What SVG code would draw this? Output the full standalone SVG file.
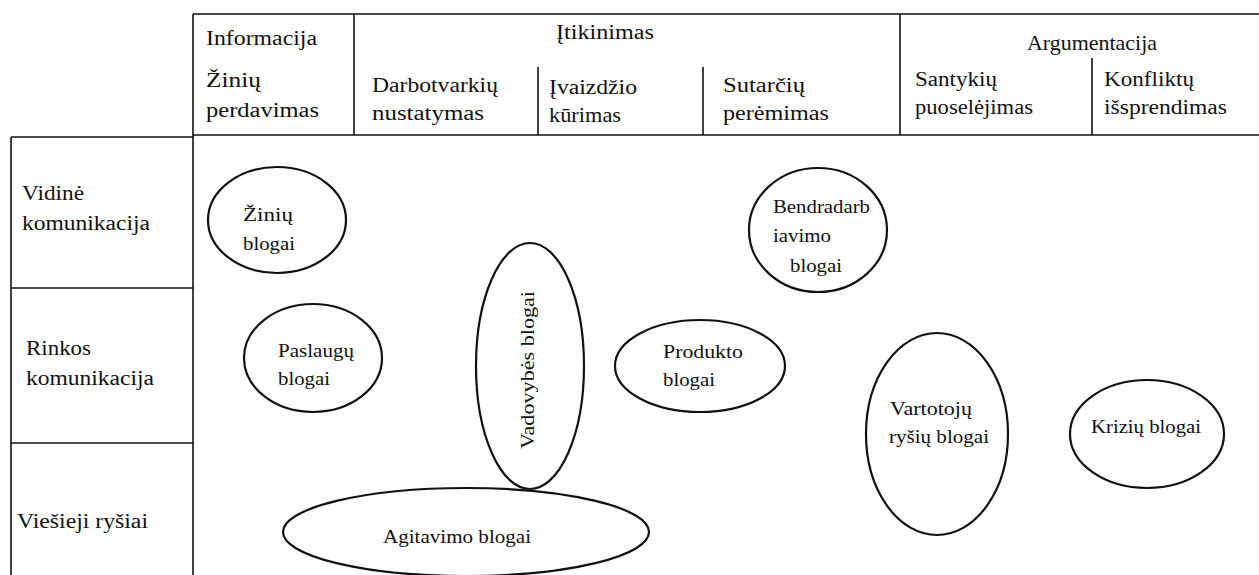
<svg xmlns="http://www.w3.org/2000/svg" width="1259" height="575" viewBox="0 0 1259 575">
  <style>
    .grid { stroke: #111; stroke-width: 1.6; fill: none; }
    .blob { stroke: #111; stroke-width: 2.2; fill: #fff; }
    .hd { font-family: "Liberation Serif", "DejaVu Serif", serif; font-size: 20px; fill: #111; }
    .lb { font-family: "Liberation Serif", "DejaVu Serif", serif; font-size: 18px; fill: #111; }
  </style>

  <!-- table lines -->
  <g id="connectors">
    <line class="grid" x1="193" y1="14" x2="1259" y2="14"/>
    <line class="grid" x1="193" y1="135" x2="1259" y2="135"/>
    <line class="grid" x1="193" y1="14" x2="193" y2="575"/>
    <line class="grid" x1="354" y1="14" x2="354" y2="135"/>
    <line class="grid" x1="900" y1="14" x2="900" y2="135"/>
    <line class="grid" x1="538" y1="67" x2="538" y2="135"/>
    <line class="grid" x1="703" y1="67" x2="703" y2="135"/>
    <line class="grid" x1="1092" y1="58" x2="1092" y2="135"/>
    <line class="grid" x1="11" y1="137" x2="193" y2="137"/>
    <line class="grid" x1="11" y1="137" x2="11" y2="575"/>
    <line class="grid" x1="11" y1="288" x2="193" y2="288"/>
    <line class="grid" x1="11" y1="443" x2="193" y2="443"/>
  </g>

  <!-- column headings -->
  <g id="col-informacija">
    <text class="hd" x="206" y="45" textLength="111" lengthAdjust="spacingAndGlyphs">Informacija</text>
    <text class="hd" x="206" y="87" textLength="55" lengthAdjust="spacingAndGlyphs">Žinių</text>
    <text class="hd" x="206" y="117" textLength="113" lengthAdjust="spacingAndGlyphs">perdavimas</text>
  </g>
  <g id="col-itikinimas">
    <text class="hd" x="556" y="39" textLength="98" lengthAdjust="spacingAndGlyphs">Įtikinimas</text>
    <text class="hd" x="372" y="92" textLength="126" lengthAdjust="spacingAndGlyphs">Darbotvarkių</text>
    <text class="hd" x="372" y="120" textLength="112" lengthAdjust="spacingAndGlyphs">nustatymas</text>
    <text class="hd" x="549" y="94" textLength="88" lengthAdjust="spacingAndGlyphs">Įvaizdžio</text>
    <text class="hd" x="549" y="122" textLength="72" lengthAdjust="spacingAndGlyphs" style="font-size:21px">kūrimas</text>
    <text class="hd" x="723" y="92" textLength="82" lengthAdjust="spacingAndGlyphs">Sutarčių</text>
    <text class="hd" x="723" y="120" textLength="106" lengthAdjust="spacingAndGlyphs">perėmimas</text>
  </g>
  <g id="col-argumentacija">
    <text class="hd" x="1027" y="50" textLength="130" lengthAdjust="spacingAndGlyphs" style="font-size:21px">Argumentacija</text>
    <text class="hd" x="915" y="86" textLength="82" lengthAdjust="spacingAndGlyphs">Santykių</text>
    <text class="hd" x="915" y="114" textLength="118" lengthAdjust="spacingAndGlyphs">puoselėjimas</text>
    <text class="hd" x="1104" y="86" textLength="90" lengthAdjust="spacingAndGlyphs">Konfliktų</text>
    <text class="hd" x="1104" y="114" textLength="123" lengthAdjust="spacingAndGlyphs">išsprendimas</text>
  </g>

  <!-- row headings -->
  <g id="row-vidine">
    <text class="hd" x="22" y="200" textLength="62" lengthAdjust="spacingAndGlyphs">Vidinė</text>
    <text class="hd" x="22" y="230" textLength="128" lengthAdjust="spacingAndGlyphs">komunikacija</text>
  </g>
  <g id="row-rinkos">
    <text class="hd" x="26" y="355" textLength="65" lengthAdjust="spacingAndGlyphs">Rinkos</text>
    <text class="hd" x="26" y="385" textLength="128" lengthAdjust="spacingAndGlyphs">komunikacija</text>
  </g>
  <g id="row-viesieji">
    <text class="hd" x="17" y="528" textLength="131" lengthAdjust="spacingAndGlyphs">Viešieji ryšiai</text>
  </g>

  <!-- blog types -->
  <g id="ziniu-blogai">
    <ellipse class="blob" cx="277" cy="220" rx="69" ry="53"/>
    <text class="lb" x="243" y="221" textLength="50" lengthAdjust="spacingAndGlyphs">Žinių</text>
    <text class="lb" x="243" y="250" textLength="52" lengthAdjust="spacingAndGlyphs">blogai</text>
  </g>
  <g id="paslaugu-blogai">
    <ellipse class="blob" cx="313" cy="358" rx="69" ry="54"/>
    <text class="lb" x="278" y="357" textLength="76" lengthAdjust="spacingAndGlyphs">Paslaugų</text>
    <text class="lb" x="278" y="385" textLength="52" lengthAdjust="spacingAndGlyphs">blogai</text>
  </g>
  <g id="agitavimo-blogai">
    <ellipse class="blob" cx="466" cy="532" rx="183" ry="44"/>
    <text class="lb" x="383" y="543" textLength="148" lengthAdjust="spacingAndGlyphs">Agitavimo blogai</text>
  </g>
  <g id="vadovybes-blogai">
    <ellipse class="blob" cx="530" cy="366" rx="54" ry="123"/>
    <text class="lb" x="0" y="0" text-anchor="middle" textLength="158" lengthAdjust="spacingAndGlyphs" transform="translate(534 370) rotate(-90)">Vadovybės blogai</text>
  </g>
  <g id="produkto-blogai">
    <ellipse class="blob" cx="700" cy="366" rx="85" ry="46"/>
    <text class="lb" x="663" y="358" textLength="80" lengthAdjust="spacingAndGlyphs">Produkto</text>
    <text class="lb" x="663" y="386" textLength="52" lengthAdjust="spacingAndGlyphs">blogai</text>
  </g>
  <g id="bendradarbiavimo-blogai">
    <ellipse class="blob" cx="818" cy="230" rx="69" ry="62"/>
    <text class="lb" x="773" y="213" textLength="97" lengthAdjust="spacingAndGlyphs">Bendradarb</text>
    <text class="lb" x="773" y="242" textLength="58" lengthAdjust="spacingAndGlyphs">iavimo</text>
    <text class="lb" x="790" y="272" textLength="52" lengthAdjust="spacingAndGlyphs">blogai</text>
  </g>
  <g id="vartotoju-rysiu-blogai">
    <ellipse class="blob" cx="937" cy="434" rx="71" ry="101"/>
    <text class="lb" x="890" y="415" textLength="82" lengthAdjust="spacingAndGlyphs">Vartotojų</text>
    <text class="lb" x="889" y="443" textLength="100" lengthAdjust="spacingAndGlyphs">ryšių blogai</text>
  </g>
  <g id="riziu-blogai">
    <ellipse class="blob" cx="1147" cy="434" rx="77" ry="54"/>
    <text class="lb" x="1091" y="433" textLength="110" lengthAdjust="spacingAndGlyphs">Krizių blogai</text>
  </g>
</svg>
